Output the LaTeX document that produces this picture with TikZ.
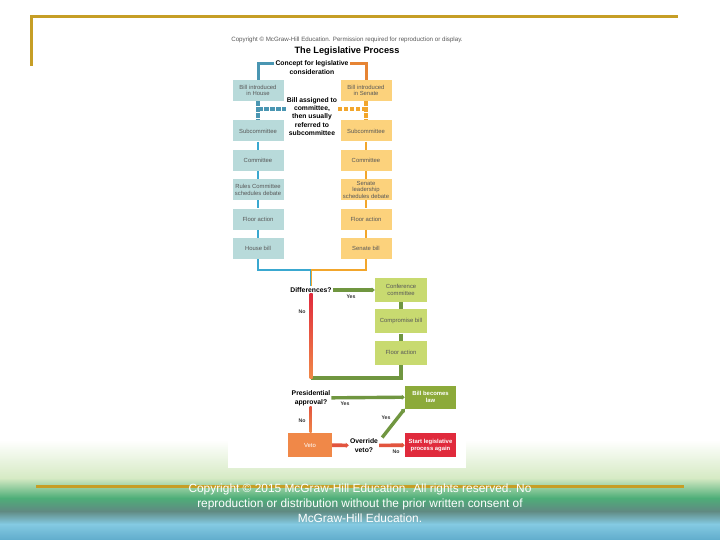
\documentclass[tikz,border=0pt]{standalone}
\usepackage{fontspec}
\setmainfont{Liberation Sans}
\usetikzlibrary{arrows.meta,positioning,calc}
\definecolor{FrameGold}{RGB}{198,158,38}
\definecolor{HouseTeal}{RGB}{184,218,218}
\definecolor{HouseBlue}{RGB}{58,168,208}
\definecolor{BracketBlue}{RGB}{74,150,178}
\definecolor{SenateGold}{RGB}{252,210,124}
\definecolor{SenateOrange}{RGB}{242,166,44}
\definecolor{BracketOrange}{RGB}{230,132,52}
\definecolor{ConfGreen}{RGB}{200,218,112}
\definecolor{LawGreen}{RGB}{140,170,58}
\definecolor{PathGreen}{RGB}{112,150,64}
\definecolor{VetoOrange}{RGB}{240,136,72}
\definecolor{RestartRed}{RGB}{224,42,60}
\definecolor{NoRed}{RGB}{226,84,62}
\definecolor{BoxText}{RGB}{88,88,88}

\begin{document}
\begin{tikzpicture}[x=1pt, y=-1pt,
  node distance=8pt,
  house/.style={fill=HouseTeal, text=BoxText, align=center, inner sep=1pt,
    minimum width=51pt, minimum height=21pt, font=\fontsize{5.9}{6.3}\selectfont},
  senate/.style={house, fill=SenateGold},
  conf/.style={house, fill=ConfGreen, minimum width=52pt, minimum height=24pt},
  law/.style={house, fill=LawGreen, text=white, minimum height=23pt, font=\bfseries\fontsize{5.9}{7}\selectfont},
  veto/.style={house, fill=VetoOrange, text=white, minimum width=44pt, minimum height=24pt},
  restart/.style={law, fill=RestartRed, minimum height=24pt},
  decision/.style={font=\bfseries\fontsize{6.8}{8.6}\selectfont, align=center, inner sep=1pt},
  answer/.style={font=\bfseries\fontsize{5.2}{5.6}\selectfont, text=black!80, inner sep=0pt},
  hline/.style={line width=2.6pt, draw=HouseBlue},
  sline/.style={line width=2.6pt, draw=SenateOrange},
  hdash/.style={line width=3.6pt, draw=BracketBlue, dash pattern=on 4.5pt off 1.5pt},
  sdash/.style={line width=3.6pt, draw=SenateOrange, dash pattern=on 4.5pt off 1.5pt},
  gline/.style={line width=3.4pt, draw=PathGreen},
  garrow/.style={gline, -{Triangle[length=3pt, width=5pt]}},
  rarrow/.style={line width=3.6pt, draw=NoRed, -{Triangle[length=3pt, width=5pt]}},
  goldline/.style={line width=3pt, draw=FrameGold}
]
\useasboundingbox (0,0) rectangle (720,540);

% --- Slide background ---
\fill[white] (0,0) rectangle (720,540);
\shade[top color=white, bottom color={rgb,255:red,214;green,234;blue,196}] (0,440) rectangle (720,478);
\shade[top color={rgb,255:red,214;green,234;blue,196}, bottom color={rgb,255:red,78;green,174;blue,120}] (0,478) rectangle (720,498);
\shade[top color={rgb,255:red,78;green,174;blue,120}, bottom color={rgb,255:red,96;green,138;blue,130}] (0,498) rectangle (720,511);
\shade[top color={rgb,255:red,96;green,138;blue,130}, bottom color={rgb,255:red,132;green,202;blue,226}] (0,511) rectangle (720,524);
\shade[top color={rgb,255:red,132;green,202;blue,226}, bottom color={rgb,255:red,96;green,172;blue,204}] (0,524) rectangle (720,540);
\draw[goldline] (30,17) -- (678,17);
\draw[goldline] (31,15.5) -- (31,66);

% --- Figure panel ---
\fill[white] (228,30) rectangle (466,468);
\node[font=\fontsize{6.2}{7}\selectfont, text=black!65] (credit) at (347,40)
  {Copyright © McGraw-Hill Education. Permission required for reproduction or display.};
\node[font=\bfseries\fontsize{9.2}{10}\selectfont] (title) at (347,51) {The Legislative Process};
\node[decision] (concept) at (312,67.5) {Concept for legislative\\consideration};

% --- House column ---
\node[house] (hintro) at (258,90.5) {Bill introduced\\in House};
\node[house] (hsub) at (258,131) {Subcommittee};
\node[house, below=of hsub] (hcomm) {Committee};
\node[house, below=of hcomm] (hrules) {Rules Committee\\schedules debate};
\node[house, below=of hrules] (hfloor) {Floor action};
\node[house, below=of hfloor] (hbill) {House bill};

% --- Senate column ---
\node[senate] (sintro) at (366,90.5) {Bill introduced\\in Senate};
\node[senate] (ssub) at (366,131) {Subcommittee};
\node[senate, below=of ssub] (scomm) {Committee};
\node[senate, below=of scomm] (slead) {Senate\\leadership\\schedules debate};
\node[senate, below=of slead] (sfloor) {Floor action};
\node[senate, below=of sfloor] (sbill) {Senate bill};

\node[decision, font=\bfseries\fontsize{6.8}{8.3}\selectfont] (assigned) at (312,116.5)
  {Bill assigned to\\committee,\\then usually\\referred to\\subcommittee};

% --- Conference and decisions ---
\node[decision] (diff) at (311,290) {Differences?};
\node[conf] (confc) at (401,290) {Conference\\committee};
\node[conf, below=7pt of confc] (ccomp) {Compromise bill};
\node[conf, below=7pt of ccomp] (cfloor) {Floor action};
\node[decision] (pres) at (311,398) {Presidential\\approval?};
\node[law] (law) at (430.5,397) {Bill becomes\\law};
\node[veto] (veto) at (310,445) {Veto};
\node[decision] (override) at (364,445.5) {Override\\veto?};
\node[restart] (restart) at (430.5,445) {Start legislative\\process again};

\coordinate (merge) at (311,270);
\coordinate (join) at (311,378);

% --- Connectors ---
\draw[line width=3pt, draw=BracketBlue] (concept.west |- 0,64) -| (hintro.north);
\draw[line width=3pt, draw=BracketOrange] (concept.east |- 0,64) -| (sintro.north);
\draw[hdash] (hintro.south) -- (hsub.north);
\draw[sdash] (sintro.south) -- (ssub.north);
\draw[hdash] (hintro.south |- 0,109) -- (assigned.west |- 0,109);
\draw[sdash] (sintro.south |- 0,109) -- (assigned.east |- 0,109);
\draw[hline] (hsub) -- (hcomm);
\draw[hline] (hcomm) -- (hrules);
\draw[hline] (hrules) -- (hfloor);
\draw[hline] (hfloor) -- (hbill);
\draw[sline] (ssub) -- (scomm);
\draw[sline] (scomm) -- (slead);
\draw[sline] (slead) -- (sfloor);
\draw[sline] (sfloor) -- (sbill);
\draw[hline] (hbill) |- (merge);
\draw[sline] (sbill) |- (merge);
\draw[line width=1.4pt, HouseBlue] ([xshift=-0.7pt]merge) -- ([xshift=-0.7pt]merge |- diff.north);
\draw[line width=1.4pt, SenateOrange] ([xshift=0.7pt]merge) -- ([xshift=0.7pt]merge |- diff.north);

\draw[garrow] (diff) -- (confc);
\draw[gline] (confc) -- (ccomp);
\draw[gline] (ccomp) -- (cfloor);
\draw[gline] (cfloor) |- (join);
\shade[top color=RestartRed, bottom color=VetoOrange] ([xshift=-1.5pt]diff.south) rectangle ([xshift=1.5pt]join);
\draw[garrow] (pres) -- (law);
\shade[top color=NoRed, bottom color=VetoOrange] ([xshift=-1.5pt]pres.south) rectangle ([xshift=1.5pt]veto.north);
\draw[rarrow] (veto) -- (override);
\draw[garrow] ([xshift=3pt]override.north east) -- (law.south west);
\draw[rarrow] (override) -- (restart);

% --- Answers ---
\node[answer] (yes1) at (351,297) {Yes};
\node[answer] (no1) at (302,312) {No};
\node[answer] (yes2) at (345,404) {Yes};
\node[answer] (no2) at (302,421) {No};
\node[answer] (yes3) at (386,418) {Yes};
\node[answer] (no3) at (396,451.5) {No};

% --- Footer ---
\draw[goldline] (36,486) -- (684,486);
\node[text=white, align=center, font=\fontsize{11.9}{15}\selectfont] (rights) at (360,503)
  {Copyright © 2015 McGraw-Hill Education. All rights reserved. No\\
   reproduction or distribution without the prior written consent of\\
   McGraw-Hill Education.};
\end{tikzpicture}
\end{document}
